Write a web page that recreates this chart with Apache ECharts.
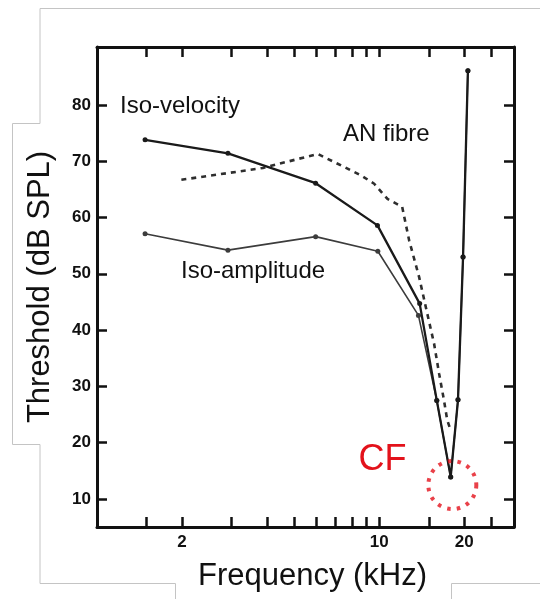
<!DOCTYPE html>
<html>
<head>
<meta charset="utf-8">
<script src="https://cdn.jsdelivr.net/npm/echarts@6/dist/echarts.min.js"></script>
<style>html,body{margin:0;padding:0;background:#fff}#c{width:540px;height:599px}</style>
</head>
<body>
<div id="c"></div>
<script>
// Frequency (kHz), threshold (dB SPL)
var isoVelocity = [[1.48,73.8],[2.91,71.4],[5.95,66.1],[9.85,58.6],[13.9,44.7],[15.98,27.5],[17.9,13.9],[19.0,27.6],[19.8,53.0],[20.6,86.1]];
var isoAmplitude = [[1.48,57.1],[2.91,54.2],[5.95,56.6],[9.88,54.0],[13.76,42.6],[15.98,27.5],[17.9,13.9],[19.0,27.6],[19.8,53.0],[20.6,86.1]];
var anFibre = [[1.99,66.7],[3.87,68.8],[6.05,71.3],[8.61,67.5],[9.59,66.0],[10.69,63.3],[12.05,61.9],[12.76,55.9],[13.84,49.4],[14.61,44.1],[15.63,37.6],[16.28,32.3],[16.95,27.5],[17.4,24.0],[17.9,22.2]];
var cfPoint = [[18.14,12.45]];
var xTicks = [1.5,2,3,4,5,6,7,8,9,10,15,20,25];
var xLabels = [2,10,20];
var yTicks = [10,20,30,40,50,60,70,80];

var X_MIN = 1, X_MAX = 30, Y_MIN = 5, Y_MAX = 90.3;
var axisCol = '#111';
var chart = echarts.init(document.getElementById('c'));
function xAx(pos, labels){
  return {type:'log', logBase:10, min:X_MIN, max:X_MAX, position:pos,
    axisLine:{show:true, onZero:false, lineStyle:{color:axisCol, width:3}},
    axisTick:{show:true, inside:true, length:10, customValues:xTicks, lineStyle:{color:axisCol, width:2.5}},
    axisLabel:{show:labels, customValues:xLabels, fontSize:17, fontWeight:'bold', color:axisCol, margin:7, fontFamily:'Liberation Sans'},
    splitLine:{show:false}, minorTick:{show:false}, minorSplitLine:{show:false}};
}
function yAx(pos, labels){
  return {type:'value', min:Y_MIN, max:Y_MAX, position:pos,
    axisLine:{show:true, onZero:false, lineStyle:{color:axisCol, width:3}},
    axisTick:{show:true, inside:true, length:10, customValues:yTicks, lineStyle:{color:axisCol, width:2.5}},
    axisLabel:{show:labels, customValues:yTicks, fontSize:17, fontWeight:'bold', color:axisCol, margin:6, fontFamily:'Liberation Sans'},
    splitLine:{show:false}};
}
var yLeft = yAx('left', true);
yLeft.name = 'Threshold (dB SPL)';
yLeft.nameLocation = 'middle';
yLeft.nameRotate = 90;
yLeft.nameGap = 41;
yLeft.nameTextStyle = {fontSize:31, color:'#111', fontFamily:'Liberation Sans'};

function ttl(t, x, y, size, color, align){
  return {text:t, left:x, top:y, padding:0, textAlign:align||'left', textVerticalAlign:'middle',
          textStyle:{fontSize:size, fontWeight:'normal', color:color, fontFamily:'Liberation Sans'}};
}
var frame = {type:'polyline', silent:true, z:0, shape:{points:[[540,8.5],[40,8.5],[40,123.5],[12.5,123.5],[12.5,444.5],[40,444.5],[40,583.5],[175.5,583.5],[175.5,599]]}, style:{stroke:'#c4c4c4', lineWidth:1}};
var frame2 = {type:'polyline', silent:true, z:0, shape:{points:[[540,583.5],[451.5,583.5],[451.5,599]]}, style:{stroke:'#c4c4c4', lineWidth:1}};

chart.setOption({
  animation:false,
  backgroundColor:'#fff',
  grid:{left:97, right:26, top:47, bottom:72, containLabel:false},
  title:[
    ttl('Frequency (kHz)', 312.5, 576, 31, '#111', 'center'),
    ttl('CF', 382.5, 460.5, 36, '#e3121b', 'center'),
    ttl('Iso-velocity', 120, 106.5, 24, '#111'),
    ttl('AN fibre', 343, 134.5, 24, '#111'),
    ttl('Iso-amplitude', 181, 271.5, 24, '#111')
  ],
  xAxis:[xAx('bottom', true), xAx('top', false)],
  yAxis:[yLeft, yAx('right', false)],
  graphic:[frame, frame2],
  series:[
    {name:'Iso-amplitude', type:'line', data:isoAmplitude, symbol:'circle', symbolSize:5, showSymbol:true,
     lineStyle:{color:'#3c3c3c', width:1.6}, itemStyle:{color:'#3c3c3c'}, z:3},
    {name:'Iso-velocity', type:'line', data:isoVelocity, symbol:'circle', symbolSize:5, showSymbol:true,
     lineStyle:{color:'#1a1a1a', width:2.3}, itemStyle:{color:'#1a1a1a'}, z:4},
    {name:'AN fibre', type:'line', data:anFibre, symbol:'none',
     lineStyle:{color:'#2e2e2e', width:2.6, type:[5,5]}, z:2},
    {name:'CF', type:'scatter', data:cfPoint, symbol:'circle', symbolSize:48,
     itemStyle:{color:'rgba(0,0,0,0)', borderColor:'#e3121b', borderWidth:4, borderType:[3.5,6.3]}, z:5}
  ]
});
</script>
</body>
</html>
